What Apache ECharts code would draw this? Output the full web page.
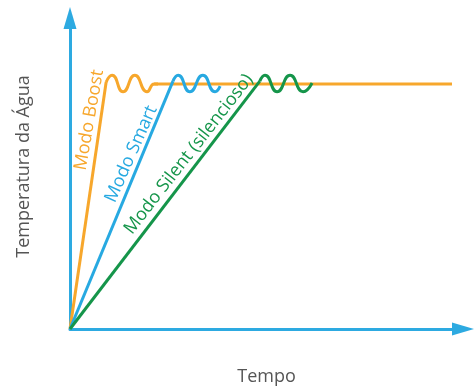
<!DOCTYPE html>
<html>
<head>
<meta charset="utf-8">
<script src="https://cdn.jsdelivr.net/npm/echarts@6/dist/echarts.min.js"></script>
<style>
  html, body { margin: 0; padding: 0; background: #fff; }
  #chart { width: 475px; height: 392px; }
</style>
</head>
<body>
<div id="chart"></div>
<script>
// eixos sem escala: tempo 0-100, temperatura 0-100
var xName = 'Tempo';
var yName = 'Temperatura da Água';

// subida de cada modo (origem -> patamar)
var boostRise = [[0, 0], [9.2, 79.4]];
var smartRise = [[0, 0], [26.2, 79.7]];
var silentRise = [[0, 0], [48.3, 79.7]];

// ondulação no patamar
var boostWave = [[9.2, 79.4], [10.7, 81.6], [13.5, 76.3], [16.5, 81.6], [19.6, 76.3], [21.4, 78.8], [22.4, 78.8]];
var smartWave = [[26.2, 79.7], [27.5, 81.6], [30.5, 76.3], [33.8, 81.6], [36.9, 76.3], [38.2, 78.1]];
var silentWave = [[48.3, 79.7], [49.6, 81.6], [52.7, 76.3], [56.0, 81.6], [59.3, 76.3], [61.6, 79.1]];

// patamar final (temperatura atingida)
var plateau = [[21.4, 78.8], [97.2, 78.8]];

// nomes dos modos e onde ficam
var modeNames = ['Modo Boost', 'Modo Smart', 'Modo Silent (silencioso)'];
var modeLabelAt = [[4.9, 67.2], [15.6, 56.3], [30.2, 56.2]];
var modeLabelAngle = [80, 66, 52];

var orange = '#F7A72C', blue = '#27A9E1', green = '#15954A';
var axisBlue = '#2DAAE1';

function lineSeries(data, color, smooth) {
  return {
    type: 'line',
    data: data,
    symbol: 'none',
    smooth: smooth ? 0.55 : false,
    lineStyle: { color: color, width: 3 },
    silent: true
  };
}

function withLabel(s, i, color) {
  s.markPoint = {
    symbol: 'circle',
    symbolSize: 0,
    silent: true,
    data: [{ coord: modeLabelAt[i], value: modeNames[i] }],
    label: {
      show: true,
      position: 'inside',
      formatter: modeNames[i],
      rotate: modeLabelAngle[i],
      color: color,
      fontSize: 18,
      fontFamily: 'Open Sans'
    }
  };
  return s;
}

var myChart = echarts.init(document.getElementById('chart'));
var option = {
  animation: false,
  textStyle: { fontFamily: 'Open Sans' },
  grid: { left: 70, right: 12, top: 18, bottom: 63 },
  xAxis: {
    type: 'value', min: 0, max: 100,
    name: xName, nameLocation: 'middle', nameGap: 39,
    nameTextStyle: { color: '#555', fontSize: 18 },
    axisLine: { show: true, symbol: ['none', 'triangle'], symbolSize: [13, 22],
      lineStyle: { color: axisBlue, width: 3 } },
    axisTick: { show: false }, axisLabel: { show: false }, splitLine: { show: false }
  },
  yAxis: {
    type: 'value', min: 0, max: 100,
    name: yName, nameLocation: 'middle', nameGap: 37,
    nameTextStyle: { color: '#555', fontSize: 18, padding: [0, 0, 0, 14] },
    axisLine: { show: true, symbol: ['none', 'triangle'], symbolSize: [13, 22],
      lineStyle: { color: axisBlue, width: 3 } },
    axisTick: { show: false }, axisLabel: { show: false }, splitLine: { show: false }
  },
  series: [
    lineSeries(plateau, orange, false),
    withLabel(lineSeries(boostRise, orange, false), 0, orange),
    lineSeries(boostWave, orange, true),
    withLabel(lineSeries(smartRise, blue, false), 1, blue),
    lineSeries(smartWave, blue, true),
    withLabel(lineSeries(silentRise, green, false), 2, green),
    lineSeries(silentWave, green, true)
  ]
};
myChart.setOption(option);
</script>
</body>
</html>
